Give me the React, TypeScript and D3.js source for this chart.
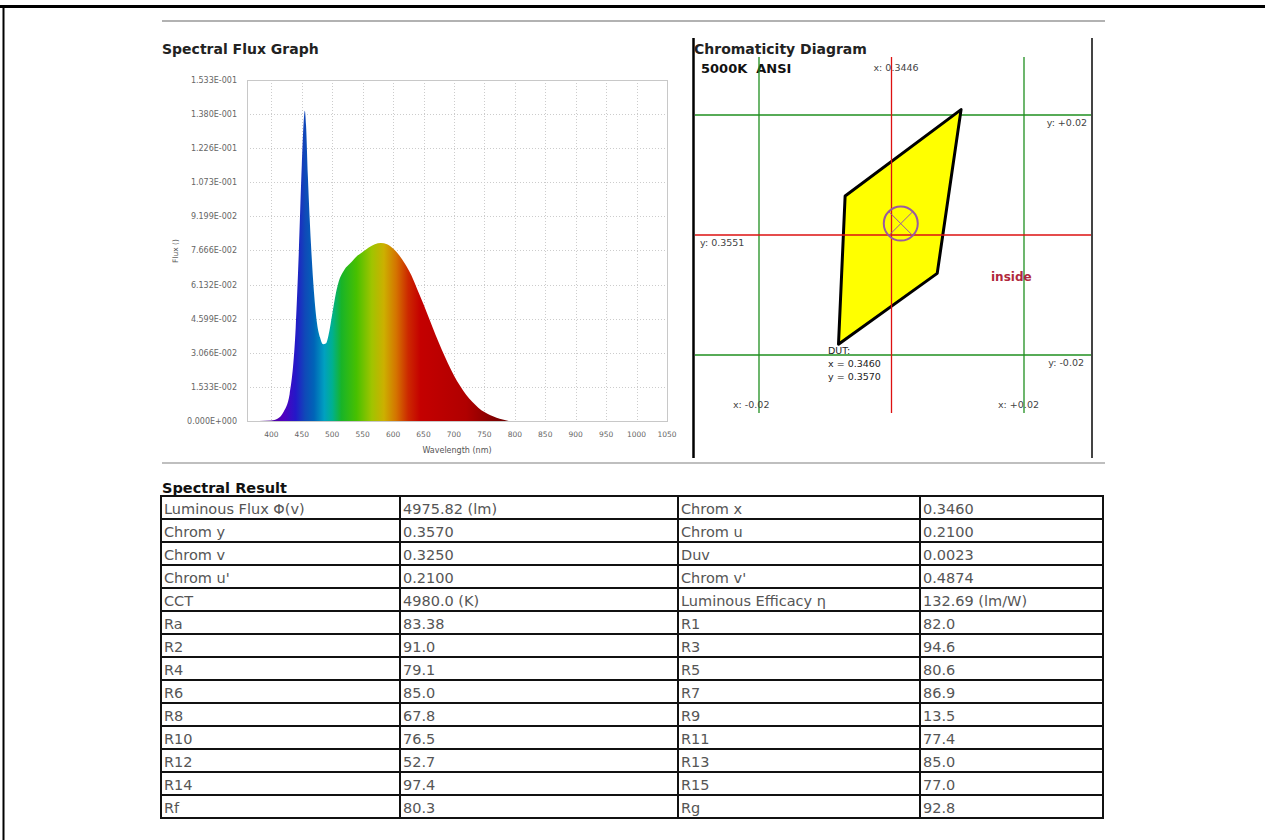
import React from 'react';
import * as d3 from 'd3';

// spectrum
const wavelengths = [380, 400, 410, 420, 430, 440, 445, 450, 453, 455, 457, 460, 465, 470, 475, 480, 485, 490, 495, 500, 505, 510, 520, 530, 540, 550, 560, 570, 580, 590, 600, 610, 620, 630, 640, 650, 660, 670, 680, 690, 700, 710, 720, 730, 740, 750, 760, 770, 780, 790];
const flux = [0, 0.0002, 0.001, 0.004, 0.012, 0.042, 0.075, 0.115, 0.134, 0.1395, 0.133, 0.11, 0.08, 0.058, 0.044, 0.0375, 0.0345, 0.035, 0.04, 0.048, 0.056, 0.062, 0.068, 0.071, 0.074, 0.076, 0.078, 0.0795, 0.08, 0.0795, 0.0775, 0.0745, 0.0705, 0.0655, 0.059, 0.0525, 0.0455, 0.0385, 0.032, 0.026, 0.0205, 0.0158, 0.0118, 0.0086, 0.006, 0.004, 0.0026, 0.0015, 0.0007, 0];

const fluxTicks = [0, 0.01533, 0.03066, 0.04599, 0.06132, 0.07666, 0.09199, 0.1073, 0.1226, 0.138, 0.1533];
const fluxTickLabels = ['0.000E+000', '1.533E-002', '3.066E-002', '4.599E-002', '6.132E-002', '7.666E-002', '9.199E-002', '1.073E-001', '1.226E-001', '1.380E-001', '1.533E-001'];
const waveTicks = [400, 450, 500, 550, 600, 650, 700, 750, 800, 850, 900, 950, 1000, 1050];

// chromaticity
const binX = [0.3551, 0.3376, 0.3366, 0.3515];
const binY = [0.376, 0.3616, 0.3369, 0.3487];
const centerX = 0.3446;
const centerY = 0.3551;
const tol = 0.02;
const dutX = 0.346;
const dutY = 0.357;

// result table
const colA = ['Luminous Flux \u03A6(v)', 'Chrom y', 'Chrom v', "Chrom u'", 'CCT', 'Ra', 'R2', 'R4', 'R6', 'R8', 'R10', 'R12', 'R14', 'Rf'];
const colB = ['4975.82 (lm)', '0.3570', '0.3250', '0.2100', '4980.0 (K)', '83.38', '91.0', '79.1', '85.0', '67.8', '76.5', '52.7', '97.4', '80.3'];
const colC = ['Chrom x', 'Chrom u', 'Duv', "Chrom v'", 'Luminous Efficacy \u03B7', 'R1', 'R3', 'R5', 'R7', 'R9', 'R11', 'R13', 'R15', 'Rg'];
const colD = ['0.3460', '0.2100', '0.0023', '0.4874', '132.69 (lm/W)', '82.0', '94.6', '80.6', '86.9', '13.5', '77.4', '85.0', '77.0', '92.8'];

const spectrumStops: [number, string][] = [
  [380, '#4a0080'], [420, '#5000c0'], [440, '#2418c8'], [455, '#1048b8'], [470, '#0064b8'],
  [487, '#00a0c0'], [500, '#00b090'], [515, '#18b428'], [540, '#48c000'], [565, '#a0c400'],
  [585, '#ccb000'], [605, '#d47400'], [625, '#cc2800'], [645, '#c40000'], [720, '#b00000'], [790, '#6a0000'],
];

const FONT = 'DejaVu Sans, Verdana, sans-serif';
const GREEN = '#1f8f1f';
const RED = '#dd1111';

export default function App() {
  // spectral plot
  const plot = { left: 247, top: 80, width: 420, height: 341 };
  const x = d3.scaleLinear().domain([360, 1050]).range([plot.left, plot.left + plot.width]);
  const y = d3.scaleLinear().domain([0, 0.1533]).range([plot.top + plot.height, plot.top]);
  const pts = wavelengths.map((w, i) => ({ w, f: flux[i] }));
  const area = d3.area<{ w: number; f: number }>()
    .x(d => x(d.w))
    .y0(y(0))
    .y1(d => y(d.f))
    .curve(d3.curveMonotoneX);
  const gx0 = x(380);
  const gx1 = x(790);

  // chromaticity plot
  const cx = d3.scaleLinear().domain([centerX - tol, centerX + tol]).range([759, 1024]);
  const cy = d3.scaleLinear().domain([centerY - tol, centerY + tol]).range([355, 115]);
  const poly = binX.map((bx, i) => [cx(bx), cy(binY[i])].join(',')).join(' ');
  const dx = cx(dutX);
  const dy = cy(dutY);
  const r = 17;
  const d45 = r * Math.SQRT1_2;

  // table
  const colEdges = [161, 400, 678, 920, 1103];
  const tableTop = 496;
  const rowH = 23;
  const rows = d3.range(colA.length);
  const cols = [colA, colB, colC, colD];

  return (
    <div style={{ position: 'absolute', left: 0, top: 0 }}>
      <svg width={1265} height={840} style={{ display: 'block', background: '#fff' }} fontFamily={FONT}>
        <defs>
          <linearGradient id="spec" gradientUnits="userSpaceOnUse" x1={gx0} x2={gx1} y1={0} y2={0}>
            {spectrumStops.map(([w, c]) => (
              <stop key={w} offset={(x(w) - gx0) / (gx1 - gx0)} stopColor={c} />
            ))}
          </linearGradient>
        </defs>

        {/* page frame */}
        <line x1={0} x2={1265} y1={6.5} y2={6.5} stroke="#000" strokeWidth={3} />
        <line x1={3.5} x2={3.5} y1={5} y2={840} stroke="#000" strokeWidth={2} />
        <line x1={162} x2={1105} y1={21} y2={21} stroke="#999" strokeWidth={1.5} />
        <line x1={162} x2={1105} y1={463} y2={463} stroke="#aaa" strokeWidth={1.5} />

        {/* Spectral flux graph */}
        <text x={162} y={54} fontSize={14} fontWeight="bold" fill="#222">Spectral Flux Graph</text>
        {fluxTicks.map((t, i) => (
          <g key={'gy' + i}>
            <line x1={plot.left} x2={plot.left + plot.width} y1={Math.round(y(t)) + 0.5} y2={Math.round(y(t)) + 0.5} stroke="#ccc" strokeDasharray="1,2" />
            <text x={237} y={y(t) + 3} fontSize={8} textAnchor="end" fill="#666">{fluxTickLabels[i]}</text>
          </g>
        ))}
        {waveTicks.map(t => (
          <g key={'gx' + t}>
            <line x1={Math.round(x(t)) + 0.5} x2={Math.round(x(t)) + 0.5} y1={plot.top} y2={plot.top + plot.height} stroke="#ccc" strokeDasharray="1,2" />
            <text x={x(t)} y={437} fontSize={7.5} textAnchor="middle" fill="#666">{t}</text>
          </g>
        ))}
        <path d={area(pts) || ''} fill="url(#spec)" />
        <rect x={plot.left + 0.5} y={plot.top + 0.5} width={plot.width} height={plot.height} fill="none" stroke="#c8c8c8" />
        <text x={457} y={453} fontSize={8} textAnchor="middle" fill="#555">Wavelength (nm)</text>
        <text transform="translate(178,251) rotate(-90)" fontSize={7.5} textAnchor="middle" fill="#555">Flux ()</text>

        {/* Chromaticity diagram */}
        <line x1={693.5} x2={693.5} y1={38} y2={458} stroke="#000" strokeWidth={2.5} />
        <line x1={1092} x2={1092} y1={38} y2={458} stroke="#444" strokeWidth={2} />
        <text x={694} y={54} fontSize={14} fontWeight="bold" fill="#222">Chromaticity Diagram</text>
        <text x={701} y={73} fontSize={13} fontWeight="bold" fill="#111" style={{ whiteSpace: 'pre' }}>5000K  ANSI</text>

        <line x1={cx(centerX - tol)} x2={cx(centerX - tol)} y1={57} y2={413} stroke={GREEN} strokeWidth={1.3} />
        <line x1={cx(centerX + tol)} x2={cx(centerX + tol)} y1={57} y2={413} stroke={GREEN} strokeWidth={1.3} />
        <line x1={695} x2={1091} y1={cy(centerY + tol)} y2={cy(centerY + tol)} stroke={GREEN} strokeWidth={1.3} />
        <line x1={695} x2={1091} y1={cy(centerY - tol)} y2={cy(centerY - tol)} stroke={GREEN} strokeWidth={1.3} />

        <polygon points={poly} fill="#ffff00" stroke="#000" strokeWidth={3} strokeLinejoin="round" />

        <line x1={cx(centerX)} x2={cx(centerX)} y1={57} y2={413} stroke={RED} strokeWidth={1.3} />
        <line x1={695} x2={1091} y1={cy(centerY)} y2={cy(centerY)} stroke={RED} strokeWidth={1.3} />

        <circle cx={dx} cy={dy} r={r} fill="none" stroke="#9a5aa0" strokeWidth={2} />
        <line x1={dx - d45} x2={dx + d45} y1={dy - d45} y2={dy + d45} stroke="#9a5aa0" strokeWidth={1} />
        <line x1={dx - d45} x2={dx + d45} y1={dy + d45} y2={dy - d45} stroke="#9a5aa0" strokeWidth={1} />

        <g fontSize={9.5} fill="#444">
          <text x={cx(centerX) - 18} y={71}>x: {centerX.toFixed(4)}</text>
          <text x={1087} y={cy(centerY + tol) + 11} textAnchor="end">y: +{tol.toFixed(2)}</text>
          <text x={700} y={cy(centerY) + 11}>y: {centerY.toFixed(4)}</text>
          <text x={1084} y={cy(centerY - tol) + 11} textAnchor="end">y: -{tol.toFixed(2)}</text>
          <text x={cx(centerX - tol) - 26} y={408}>x: -{tol.toFixed(2)}</text>
          <text x={cx(centerX + tol) - 26} y={408}>x: +{tol.toFixed(2)}</text>
        </g>
        <g fontSize={9.5} fill="#222">
          <text x={828} y={354}>DUT:</text>
          <text x={828} y={367}>x = {dutX.toFixed(4)}</text>
          <text x={828} y={380}>y = {dutY.toFixed(4)}</text>
        </g>
        <text x={991} y={281} fontSize={12} fontWeight="bold" fill="#b0283c">inside</text>

        {/* Spectral result table */}
        <text x={162} y={493} fontSize={14.5} fontWeight="bold" fill="#111">Spectral Result</text>
        {rows.map(i => (
          <g key={'row' + i}>
            {cols.map((col, j) => (
              <text key={j} x={colEdges[j] + 3} y={tableTop + i * rowH + 17.5} fontSize={14.5} fill="#555">{col[i]}</text>
            ))}
          </g>
        ))}
        {d3.range(colA.length + 1).map(i => (
          <line key={'h' + i} x1={colEdges[0] - 1} x2={colEdges[4] + 1} y1={tableTop + i * rowH} y2={tableTop + i * rowH} stroke="#111" strokeWidth={2} />
        ))}
        {colEdges.map((e, j) => (
          <line key={'v' + j} x1={e} x2={e} y1={tableTop} y2={tableTop + colA.length * rowH} stroke="#111" strokeWidth={2} />
        ))}
      </svg>
    </div>
  );
}
